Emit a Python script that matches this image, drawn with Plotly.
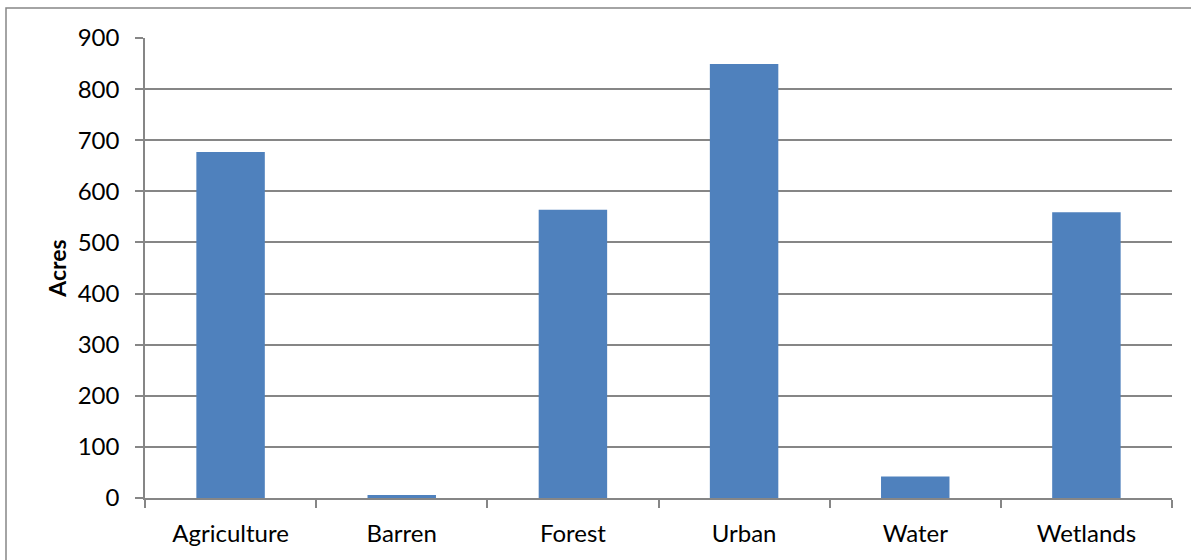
import plotly.graph_objects as go

categories = ["Agriculture", "Barren", "Forest", "Urban", "Water", "Wetlands"]
acres = [677, 6, 564, 849, 42, 559]
y_ticks = [0, 100, 200, 300, 400, 500, 600, 700, 800, 900]

W, H = 1191, 560
L, R, T, B = 145, 19, 38, 62
pw, ph = W - L - R, H - T - B

fig = go.Figure(go.Bar(x=categories, y=acres, marker=dict(color="#4F81BD", line=dict(width=0))))

font = dict(family="Lato, Carlito, Calibri, sans-serif", size=24, color="#000000")
grid = "#868686"

fig.update_layout(
    width=W, height=H,
    margin=dict(l=L, r=R, t=T, b=B),
    paper_bgcolor="white", plot_bgcolor="white",
    bargap=0.6,
    showlegend=False,
    font=font,
    xaxis=dict(
        type="category", tickson="boundaries", ticks="outside", ticklen=8,
        tickcolor=grid, tickwidth=1.5, showline=True, linecolor=grid, linewidth=1.5,
        showgrid=False, tickfont=font, ticklabelstandoff=13,
    ),
    yaxis=dict(
        range=[0, 900], tickvals=y_ticks, ticks="outside", ticklen=8,
        tickcolor=grid, tickwidth=1.5, showline=True, linecolor=grid, linewidth=1.5,
        showgrid=True, gridcolor=grid, gridwidth=1.5, zeroline=False,
        tickfont=font, ticklabelstandoff=11,
        title=dict(text="<b>Acres</b>", font=dict(family=font["family"], size=23, color="#000"), standoff=5),
    ),
    shapes=[dict(
        type="rect", xref="paper", yref="paper",
        x0=(6 - L) / pw, x1=(W + 10 - L) / pw,
        y0=-(B + 10) / ph, y1=(H - B - 8) / ph,
        line=dict(color="#868686", width=1.5), fillcolor="rgba(0,0,0,0)", layer="below",
    )],
)

fig.write_html("out.html")
